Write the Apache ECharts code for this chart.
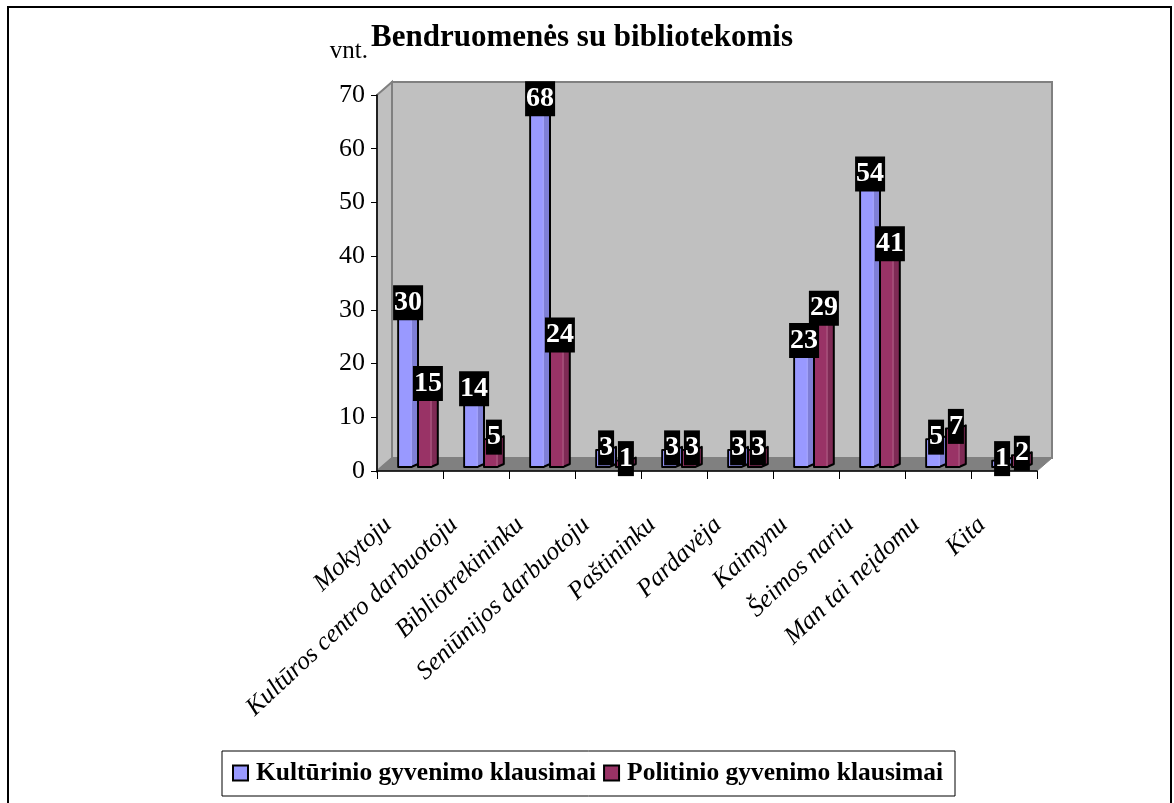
<!DOCTYPE html>
<html>
<head>
<meta charset="utf-8">
<title>Bendruomenės su bibliotekomis</title>
<script src="https://cdn.jsdelivr.net/npm/echarts@6/dist/echarts.min.js"></script>
<style>
  html, body { margin: 0; padding: 0; background: #fff; }
  #chart { width: 1174px; height: 803px; }
</style>
</head>
<body>
<div id="chart"></div>
<script>
const categories = ['Mokytoju', 'Kultūros centro darbuotoju', 'Bibliotrekininku', 'Seniūnijos darbuotoju', 'Paštininku', 'Pardavėja', 'Kaimynu', 'Šeimos nariu', 'Man tai neįdomu', 'Kita'];
const culturalValues = [30, 14, 68, 3, 3, 3, 23, 54, 5, 1];
const politicalValues = [15, 5, 24, 1, 3, 3, 29, 41, 7, 2];
const culturalName = 'Kultūrinio gyvenimo klausimai';
const politicalName = 'Politinio gyvenimo klausimai';
const yTicks = { min: 0, max: 70, interval: 10 };

const SERIF = '"Liberation Serif", "Times New Roman", serif';
const WALL_DX = 15; // depth of the fake 3d box
const WALL_DY = 13;
const BAR_DX = 7;
const BAR_DY = 5;

// back wall, left wall and floor, hung off the grid rectangle
const renderWalls = (params) => {
  const { x, y, width: w, height: h } = params.coordSys;
  const wall = { fill: '#C0C0C0', stroke: '#808080', lineWidth: 2 };
  return {
    type: 'group',
    silent: true,
    children: [
      { type: 'polygon', shape: { points: [[x + WALL_DX, y - WALL_DY], [x + w + WALL_DX, y - WALL_DY], [x + w + WALL_DX, y + h - WALL_DY], [x + WALL_DX, y + h - WALL_DY]] }, style: wall },
      { type: 'polygon', shape: { points: [[x, y], [x + WALL_DX, y - WALL_DY], [x + WALL_DX, y + h - WALL_DY], [x, y + h]] }, style: wall },
      { type: 'polygon', shape: { points: [[x, y + h], [x + w, y + h], [x + w + WALL_DX, y + h - WALL_DY], [x + WALL_DX, y + h - WALL_DY]] }, style: { fill: '#808080', stroke: '#808080', lineWidth: 1 } },
    ],
  };
};

const makeBarRenderer = (slot, front, side, seam) => (params, api) => {
  const band = api.size([1, 0])[0];
  const val = api.value(1);
  const center = api.coord([api.value(0), val]);
  const base = api.coord([api.value(0), 0]);
  const barW = band * 0.3;
  const x0 = center[0] + BAR_DX + (slot === 0 ? -barW : 0) + 1;
  const top = center[1] - BAR_DY;
  const bottom = base[1] - BAR_DY + 1;
  const frontW = barW * 0.66;
  const rise = 3;
  return {
    type: 'group',
    children: [
      // outer silhouette carries the black outline, side face colour underneath
      {
        type: 'polygon',
        shape: { points: [[x0, top], [x0 + frontW, top], [x0 + barW, top - rise], [x0 + barW, bottom - rise], [x0 + frontW, bottom], [x0, bottom]] },
        style: { fill: side, stroke: '#000', lineWidth: 2, lineJoin: 'round' },
      },
      { type: 'rect', shape: { x: x0 + 1, y: top + 1, width: frontW - 1, height: bottom - top - 2 }, style: { fill: front } },
      { type: 'line', shape: { x1: x0 + frontW, y1: top + 1, x2: x0 + frontW, y2: bottom - 1 }, style: { stroke: seam, lineWidth: 1 } },
      {
        type: 'text',
        z2: 100,
        style: {
          text: String(val),
          x: x0 + barW / 2,
          y: top - 2,
          align: 'center',
          verticalAlign: 'middle',
          fill: '#fff',
          font: 'bold 28px ' + SERIF,
          backgroundColor: '#000',
          padding: [5, 1, 2, 1],
        },
      },
    ],
  };
};

const toPoints = (values) => values.map((v, i) => [i, v]);

const chart = echarts.init(document.getElementById('chart'));
chart.setOption({
  animation: false,
  textStyle: { fontFamily: SERIF, color: '#000' },
  title: {
    text: 'Bendruomenės su bibliotekomis',
    left: 371,
    top: 22,
    padding: 0,
    textStyle: { fontFamily: SERIF, fontWeight: 'bold', fontSize: 31, color: '#000' },
  },
  legend: {
    data: [culturalName, politicalName],
    left: 222,
    top: 751,
    padding: [9, 12, 10, 10],
    itemWidth: 15,
    itemHeight: 15,
    itemGap: 7,
    icon: 'rect',
    borderColor: '#000',
    borderWidth: 1,
    selectedMode: false,
    textStyle: { fontFamily: SERIF, fontWeight: 'bold', fontSize: 25.5, color: '#000', padding: [0, 0, 0, 3] },
  },
  grid: { left: 377, right: 137, top: 95, bottom: 332 },
  xAxis: {
    type: 'category',
    data: categories,
    z: 3,
    axisLine: { lineStyle: { color: '#000', width: 1.5 } },
    axisTick: { show: true, length: 8, lineStyle: { color: '#000' } },
    axisLabel: {
      interval: 0,
      rotate: 43,
      margin: 30,
      padding: [0, 30, 0, 0],
      fontFamily: SERIF,
      fontStyle: 'italic',
      fontSize: 25.5,
      color: '#000',
    },
  },
  yAxis: {
    type: 'value',
    name: 'vnt.',
    nameLocation: 'end',
    nameGap: 31,
    nameTextStyle: { fontFamily: SERIF, fontSize: 25, color: '#000', align: 'right', padding: [0, 9, 0, 0] },
    min: yTicks.min,
    max: yTicks.max,
    interval: yTicks.interval,
    z: 3,
    splitLine: { show: false },
    axisLine: { show: true, lineStyle: { color: '#000', width: 1.5 } },
    axisTick: { show: true, length: 6, lineStyle: { color: '#000' } },
    axisLabel: { margin: 12, fontFamily: SERIF, fontSize: 26, color: '#000' },
  },
  series: [
    { type: 'custom', name: 'walls', z: 1, silent: true, renderItem: renderWalls, data: [[0, 0]], encode: { x: 0, y: 1 } },
    {
      type: 'custom',
      name: culturalName,
      z: 4,
      itemStyle: { color: '#9999FF', borderColor: '#000', borderWidth: 2 },
      renderItem: makeBarRenderer(0, '#9999FF', '#7F7FD6', '#AAAAFF'),
      data: toPoints(culturalValues),
      encode: { x: 0, y: 1 },
    },
    {
      type: 'custom',
      name: politicalName,
      z: 4,
      itemStyle: { color: '#993366', borderColor: '#000', borderWidth: 2 },
      renderItem: makeBarRenderer(1, '#993366', '#7F2A55', '#B5668C'),
      data: toPoints(politicalValues),
      encode: { x: 0, y: 1 },
    },
  ],
  graphic: [
    { type: 'polyline', shape: { points: [[8, 820], [8, 7], [1171, 7], [1171, 820]] }, style: { stroke: '#000', fill: null, lineWidth: 2 }, silent: true },
  ],
});
</script>
</body>
</html>
